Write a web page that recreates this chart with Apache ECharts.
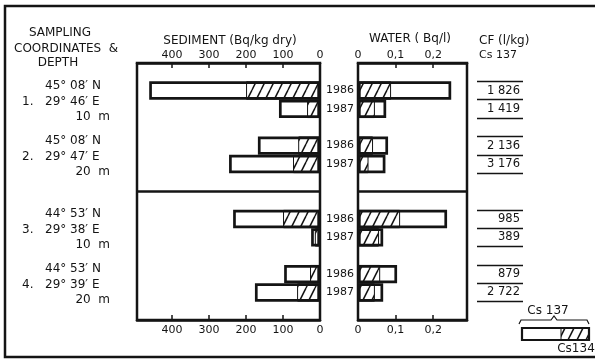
<!DOCTYPE html>
<html>
<head>
<meta charset="utf-8">
<script src="https://cdn.jsdelivr.net/npm/echarts@6/dist/echarts.min.js"></script>
<style>
html, body { margin: 0; padding: 0; background: #fff; }
#chart { width: 595px; height: 359px; }
</style>
</head>
<body>
<div id="chart"></div>
<script>
// sampling stations, top to bottom
const stationNo = ['1.', '2.', '3.', '4.']
const stationLat = ['45° 08′ N', '45° 08′ N', '44° 53′ N', '44° 53′ N']
const stationLon = ['29° 46′ E', '29° 47′ E', '29° 38′ E', '29° 39′ E']
const stationDepth = ['10  m', '20  m', '10  m', '20  m']
const years = ['1986', '1987']

// one value per station and year: st1 1986, st1 1987, st2 1986, ...
const sedCs137 = [462, 111, 168, 246, 235, 24, 97, 176]
const sedCs134 = [200, 35, 59, 73, 100, 14, 27, 62]
const watCs137 = [0.248, 0.075, 0.08, 0.073, 0.237, 0.067, 0.104, 0.067]
const watCs134 = [0.088, 0.045, 0.04, 0.028, 0.112, 0.056, 0.059, 0.045]
const cfCs137 = ['1 826', '1 419', '2 136', '3 176', '985', '389', '879', '2 722']

const sedMax = 495
const watMax = 0.29

const ink = '#141414'
const font = 'DejaVu Sans'

// rows of the category axis, with empty rows between stations
// (two between the two pairs of stations, where the rule goes)
const slots = [null]
stationNo.forEach((s, i) => {
    if (i > 0) slots.push(null)
    if (i === 2) slots.push(null)
    years.forEach((y, j) => slots.push(i * years.length + j))
})
slots.push(null)
const cats = slots.map((s, k) => (s === null ? 'gap' + k : 'st' + s))
const bounds = []
for (let k = 0; k <= slots.length; k++) bounds.push('b' + k)
const sepBound = slots.indexOf(2 * years.length) - 1
const cfBounds = new Set()
slots.forEach((s, k) => {
    if (s !== null) {
        cfBounds.add(k)
        cfBounds.add(k + 1)
    }
})
const bySlot = arr => slots.map(s => (s === null ? '-' : arr[s]))

// hatch for the Cs 134 part
function makeHatch() {
    const c = document.createElement('canvas')
    const w = 9
    const h = 18
    c.width = w
    c.height = h
    const ctx = c.getContext('2d')
    ctx.fillStyle = '#fff'
    ctx.fillRect(0, 0, w, h)
    ctx.strokeStyle = ink
    ctx.lineWidth = 1.5
    for (let o = -w; o <= w; o += w) {
        ctx.beginPath()
        ctx.moveTo(o, h)
        ctx.lineTo(o + w, 0)
        ctx.stroke()
    }
    return c
}
const hatch = { image: makeHatch(), repeat: 'repeat' }

const myChart = echarts.init(document.getElementById('chart'), null, { renderer: 'canvas' })

const gridTop = 63
const gridHeight = 257
const tickLabel = { color: ink, fontFamily: font, fontSize: 11 }

function valueAxis(gridIndex, position, max, interval, formatter) {
    return {
        type: 'value',
        gridIndex: gridIndex,
        position: position,
        min: 0,
        max: max,
        interval: interval,
        inverse: gridIndex === 0,
        axisLine: { show: true, onZero: false, lineStyle: { color: ink, width: 2.5 } },
        axisTick: { show: true, inside: true, length: 5, lineStyle: { color: ink, width: 1.5 } },
        axisLabel: Object.assign({
            showMaxLabel: false,
            formatter: formatter,
            margin: position === 'top' ? 2 : 5
        }, tickLabel),
        splitLine: { show: false }
    }
}
const sedFmt = v => String(v)
const watFmt = v => (v === 0 ? '0' : v.toFixed(1).replace('.', ','))

function boundAxis(gridIndex, test, width) {
    return {
        type: 'category',
        gridIndex: gridIndex,
        data: bounds,
        inverse: true,
        boundaryGap: false,
        axisLine: { show: false },
        axisTick: { show: false },
        axisLabel: { show: false },
        splitLine: { show: true, interval: test, lineStyle: { color: ink, width: width } }
    }
}

function rowAxis(gridIndex, position, labels, labelOpt) {
    return {
        type: 'category',
        gridIndex: gridIndex,
        position: position,
        data: cats,
        inverse: true,
        axisLine: { show: false },
        axisTick: { show: false },
        axisLabel: Object.assign({
            show: !!labels,
            interval: 0,
            color: ink,
            fontFamily: font,
            fontSize: 11,
            formatter: (v, i) => (labels ? labels[i] : '')
        }, labelOpt || {}),
        splitLine: { show: false }
    }
}

const yearLabels = slots.map(s => (s === null ? '' : years[s % years.length]))
const cfLabels = slots.map(s => (s === null ? '' : cfCs137[s]))

function barPair(xi, yi, part, total) {
    return [
        {
            type: 'bar',
            xAxisIndex: xi,
            yAxisIndex: yi,
            data: bySlot(part),
            barGap: '-100%',
            barCategoryGap: '0%',
            silent: true,
            itemStyle: { color: hatch, borderColor: ink, borderWidth: 1 }
        },
        {
            type: 'bar',
            xAxisIndex: xi,
            yAxisIndex: yi,
            data: bySlot(total),
            barGap: '-100%',
            barCategoryGap: '0%',
            silent: true,
            itemStyle: { color: 'rgba(0,0,0,0)', borderColor: ink, borderWidth: 2.7 }
        }
    ]
}

const option = {
    animation: false,
    backgroundColor: '#fff',
    grid: [
        { left: 137, top: gridTop, width: 183, height: gridHeight, show: true, borderColor: ink, borderWidth: 2.5 },
        { left: 358, top: gridTop, width: 109, height: gridHeight, show: true, borderColor: ink, borderWidth: 2.5 },
        { left: 477, top: gridTop, width: 46, height: gridHeight, show: false }
    ],
    xAxis: [
        valueAxis(0, 'bottom', sedMax, 100, sedFmt),
        valueAxis(0, 'top', sedMax, 100, sedFmt),
        valueAxis(1, 'bottom', watMax, 0.1, watFmt),
        valueAxis(1, 'top', watMax, 0.1, watFmt),
        { type: 'value', gridIndex: 2, show: false }
    ],
    yAxis: [
        rowAxis(0, 'left', null),
        boundAxis(0, i => i === sepBound, 2.5),
        rowAxis(1, 'left', yearLabels, { margin: 4 }),
        boundAxis(1, i => i === sepBound, 2.5),
        rowAxis(1, 'right', cfLabels, { margin: 53, align: 'right', fontSize: 11.5 }),
        boundAxis(2, i => cfBounds.has(i), 1.3)
    ],
    series: [].concat(barPair(0, 0, sedCs134, sedCs137), barPair(2, 2, watCs134, watCs137))
}
myChart.setOption(option)

// texts and frame around the plot
const txt = (x, y, text, opt) => ({
    type: 'text',
    x: x,
    y: y,
    silent: true,
    style: Object.assign({
        text: text,
        fill: ink,
        font: '12px "' + font + '"',
        textAlign: 'left',
        textVerticalAlign: 'middle'
    }, opt || {})
})

const graphics = [
    {
        type: 'polyline',
        silent: true,
        shape: { points: [[600, 6], [5, 6], [5, 357], [600, 357]] },
        style: { stroke: ink, lineWidth: 2.5, fill: null }
    },
    txt(60, 33, 'SAMPLING', { textAlign: 'center' }),
    txt(14, 49, 'COORDINATES  &'),
    txt(58, 63, 'DEPTH', { textAlign: 'center' }),
    txt(230, 41, 'SEDIMENT (Bq/kg dry)', { textAlign: 'center' }),
    txt(410, 39, 'WATER ( Bq/l)', { textAlign: 'center' }),
    txt(479, 41, 'CF (l/kg)'),
    txt(479, 55, 'Cs 137', { font: '11px "' + font + '"' }),
    // legend
    txt(548, 311, 'Cs 137', { textAlign: 'center' }),
    {
        type: 'polyline',
        silent: true,
        shape: { points: [[519, 324], [521, 320], [551, 320], [554, 316], [557, 320], [587, 320], [589, 324]] },
        style: { stroke: ink, lineWidth: 1.2, fill: null }
    },
    {
        type: 'rect',
        silent: true,
        shape: { x: 561, y: 328, width: 28, height: 12 },
        style: { fill: hatch, stroke: ink, lineWidth: 1 }
    },
    {
        type: 'rect',
        silent: true,
        shape: { x: 522, y: 328, width: 67, height: 12 },
        style: { fill: null, stroke: ink, lineWidth: 2.2 }
    },
    txt(576, 349, 'Cs134', { textAlign: 'center' })
]

stationNo.forEach((no, i) => {
    const y0 = myChart.convertToPixel({ yAxisIndex: 0 }, 'st' + i * years.length)
    graphics.push(txt(45, y0 - 5, stationLat[i]))
    graphics.push(txt(22, y0 + 11, no))
    graphics.push(txt(45, y0 + 11, stationLon[i]))
    graphics.push(txt(110, y0 + 26, stationDepth[i], { textAlign: 'right' }))
})

myChart.setOption({ graphic: graphics })
</script>
</body>
</html>
